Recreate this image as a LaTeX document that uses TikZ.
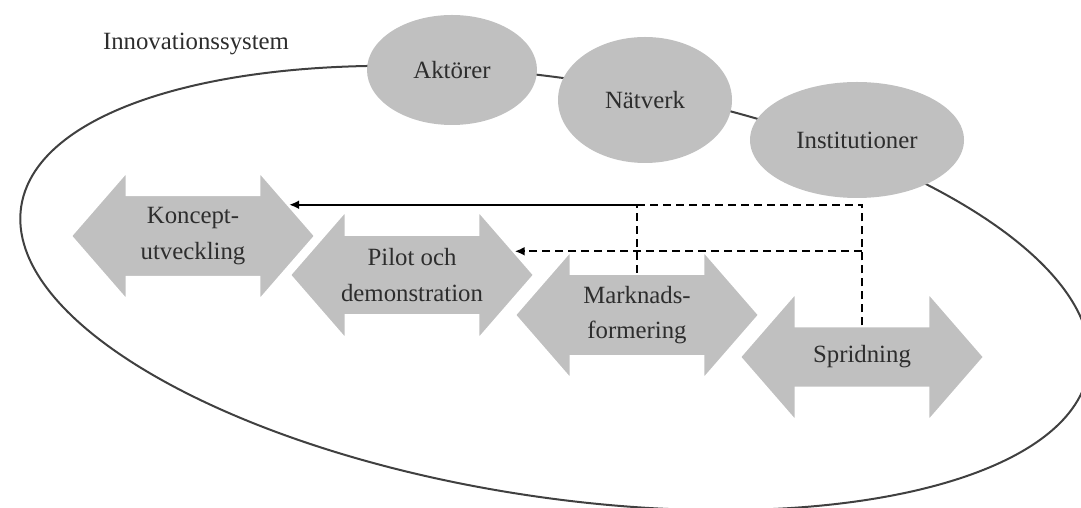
\documentclass[tikz,border=0pt]{standalone}
\usepackage{fontspec}
\setmainfont{Liberation Serif}
\usetikzlibrary{shapes.geometric,shapes.arrows,arrows.meta}
\definecolor{fasgray}{RGB}{192,192,192}
\definecolor{textgray}{RGB}{45,45,45}
\begin{document}
\begin{tikzpicture}[x = 0.5pt, y = 0.5pt,
		every node/.style = {text = textgray, font = \fontsize{12.4}{17.8}\selectfont},
		del/.style = {ellipse, fill = fasgray, inner sep = 0pt},
		fas/.style = {double arrow, fill = fasgray, draw = white, line width = 1pt, align = center,
			minimum height = 122pt, minimum width = 64pt, double arrow head extend = 10pt,
			double arrow tip angle = 98, inner sep = 3pt},
		link/.style = {line width = 1pt, -{Latex[length = 5pt, width = 4.5pt]}},
		feedback/.style = {line width = 1pt, dash pattern = on 4pt off 2.5pt}]
		\useasboundingbox (0,0) rectangle (1081,508);
		\draw [line width = 1pt, black!75, rotate around = {-8.7:(555,220)}] (555,220) ellipse [x radius = 540, y radius = 209];
		\node (system) at (196,464) {Innovationssystem};
		\node [del, minimum width = 85pt, minimum height = 55pt] (aktorer) at (452,438) {Aktörer};
		\node [del, minimum width = 87pt, minimum height = 63pt] (natverk) at (645,408) {Nätverk};
		\node [del, minimum width = 107pt, minimum height = 58pt] (institutioner) at (857,368) {Institutioner};
		\node [fas] (koncept) at (193,272) {Koncept-\\utveckling};
		\node [fas] (pilot) at (412,233) {Pilot och\\demonstration};
		\node [fas] (marknad) at (637,193) {Marknads-\\formering};
		\node [fas] (spridning) at (862,151) {Spridning};
		\coordinate (ka) at (marknad.north |- koncept.18);
		\coordinate (sp) at (spridning.north |- pilot.13);
		\draw [feedback] (marknad.north) -- (ka);
		\draw [link] (ka) -- (koncept.18);
		\draw [feedback] (spridning.north) |- (ka);
		\draw [link, feedback] (sp) -- (pilot.13);
\end{tikzpicture}
\end{document}
